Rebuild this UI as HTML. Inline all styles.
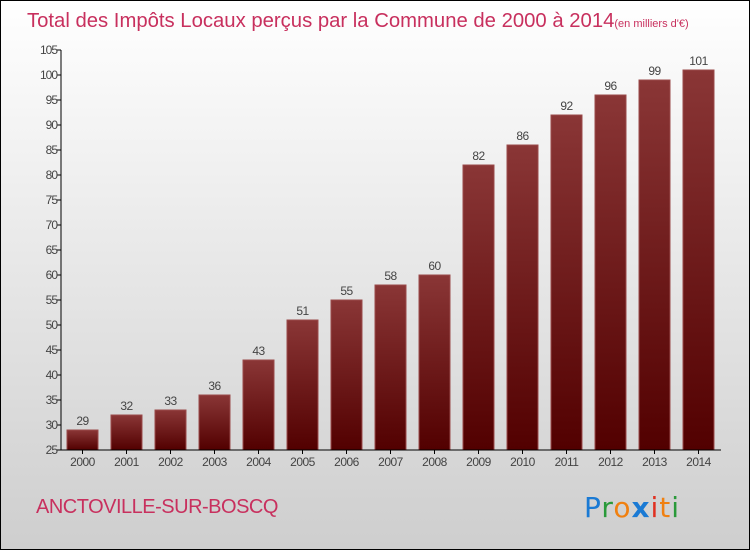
<!DOCTYPE html>
<html><head><meta charset="utf-8"><style>
html,body{margin:0;padding:0}
body{width:750px;height:550px;overflow:hidden;font-family:"Liberation Sans",sans-serif}
</style></head><body>
<svg id="chart" width="750" height="550" xmlns="http://www.w3.org/2000/svg">
<defs>
<linearGradient id="bg" x1="0" y1="0" x2="0" y2="1"><stop offset="0" stop-color="#ffffff"/><stop offset="1" stop-color="#cecece"/></linearGradient>
<linearGradient id="bar" x1="0" y1="0" x2="0" y2="1"><stop offset="0" stop-color="#8a3636"/><stop offset="1" stop-color="#520000"/></linearGradient>
</defs>
<rect x="0.5" y="0.5" width="749" height="549" fill="url(#bg)" stroke="#000"/>
<text x="27" y="27" font-size="20.3" fill="#c8305e">Total des Impôts Locaux perçus par la Commune de 2000 à 2014<tspan font-size="11">(en milliers d'€)</tspan></text>
<g id="grid"></g>
<text x="36" y="513" font-size="20" fill="#c8305e" letter-spacing="-0.5">ANCTOVILLE-SUR-BOSCQ</text>
<text x="584" y="517" font-size="28" letter-spacing="1" font-family="'DejaVu Sans',sans-serif"><tspan fill="#1a7ad4">P</tspan><tspan fill="#2a9a3a">r</tspan><tspan fill="#f08010">o</tspan><tspan fill="#1a7ad4" font-weight="bold">x</tspan><tspan fill="#e03020">i</tspan><tspan fill="#f08010">t</tspan><tspan fill="#2a9a3a">i</tspan></text>
</svg>
<script>
const years=["2000","2001","2002","2003","2004","2005","2006","2007","2008","2009","2010","2011","2012","2013","2014"];
const values=[29,32,33,36,43,51,55,58,60,82,86,92,96,99,101];
const yTicks=[25,30,35,40,45,50,55,60,65,70,75,80,85,90,95,100,105];
const NS="http://www.w3.org/2000/svg";
const svg=document.getElementById('chart');
const g=document.getElementById('grid');
const x0=61,x1=721,yMin=25,yMax=105,yBot=450,yTop=50;
const y=v=>yBot-(v-yMin)/(yMax-yMin)*(yBot-yTop);
const step=44,bw=31,first=67;
function mk(t,a){const e=document.createElementNS(NS,t);for(const k in a)e.setAttribute(k,a[k]);g.appendChild(e);return e;}
yTicks.forEach(v=>{
 const l=mk('line',{x1:x0-4,x2:x0,y1:y(v),y2:y(v),stroke:'#000'});
 
 
 const t=mk('text',{x:x0-4,y:y(v)+4,'font-size':12,fill:'#444','text-anchor':'end','letter-spacing':'-1'});
 t.textContent=v;
 
 
});
years.forEach((yr,i)=>{
 const bx=first+i*step;
 const r=mk('rect',{x:bx,y:y(values[i]),width:bw,height:yBot-y(values[i]),fill:'url(#bar)',stroke:'#9a4a4a','stroke-width':1});
 
 
 const vl=mk('text',{x:bx+bw/2,y:y(values[i])-5,'font-size':12,fill:'#444','text-anchor':'middle','letter-spacing':'-0.5'});
 vl.textContent=values[i];
 
 
 const tk=mk('line',{x1:bx+bw/2,x2:bx+bw/2,y1:yBot,y2:yBot+4,stroke:'#000'});
 
 
 const xl=mk('text',{x:bx+bw/2,y:yBot+16,'font-size':12,fill:'#444','text-anchor':'middle','letter-spacing':'-0.5'});
 xl.textContent=yr;
 
 
});
const ya=mk('line',{x1:x0,x2:x0,y1:yTop,y2:yBot,stroke:'#000'});


const xa=mk('line',{x1:x0,x2:x1,y1:yBot,y2:yBot,stroke:'#000'});


</script>
</body></html>
